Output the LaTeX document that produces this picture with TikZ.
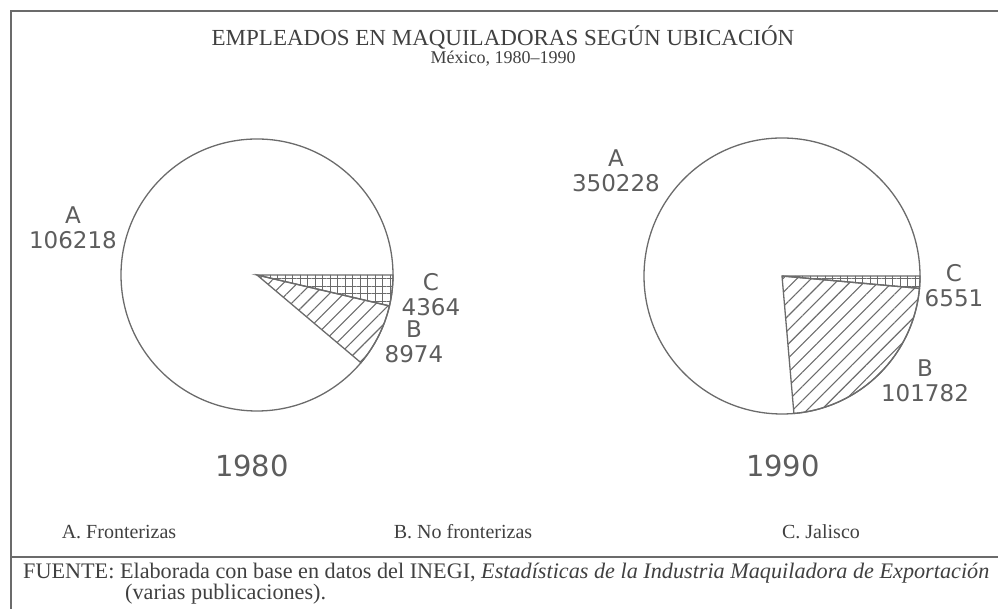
\documentclass[tikz,border=0pt]{standalone}
\usepackage{fontspec}
\setmainfont{Liberation Serif}
\newfontfamily\piefont{DejaVu Sans}
\usetikzlibrary{patterns.meta}
\definecolor{ink}{gray}{0.25}
\definecolor{rimgray}{gray}{0.42}
\tikzset{
  rim/.style={draw=rimgray, line width=1.3pt},
  hatchB/.style={pattern={Lines[angle=45,distance=10pt,line width=1.1pt]}, pattern color=rimgray},
  hatchC/.style={pattern={Hatch[angle=0,distance=7.5pt,line width=1pt]}, pattern color=rimgray},
  pielbl/.style={font=\piefont\fontsize{23}{25}\selectfont, text=ink!85, align=center, inner sep=0pt},
  yearlbl/.style={font=\piefont\fontsize{29}{31}\selectfont, text=ink!85, inner sep=0pt},
  serif/.style={font=\fontsize{20}{22}\selectfont, text=ink, inner sep=0pt},
}
\begin{document}
\begin{tikzpicture}[x=1pt,y=1pt]
\useasboundingbox (0,0) rectangle (998,609);
% frame
\draw[rim] (11,0) -- (11,598) -- (998,598);
\draw[rimgray, line width=1.8pt] (11,52) -- (998,52);
% title
\node[serif, font=\fontsize{23}{25}\selectfont] (title) at (503,571) {EMPLEADOS EN MAQUILADORAS SEGÚN UBICACIÓN};
\node[serif, font=\fontsize{18}{20}\selectfont] (subtitle) at (503,550) {México, 1980--1990};
% 1980
\pgfmathsetmacro\angCa{360/119.556*4.364}
\pgfmathsetmacro\angBa{360/119.556*(4.364+8.974)}
\coordinate (ca) at (257,334);
\draw[rim] (ca) circle[radius=136pt];
\draw[rim, hatchC] (ca) -- ++(0:136pt) arc[start angle=0, end angle=-\angCa, radius=136pt] -- cycle;
\draw[rim, hatchB] (ca) -- ++(-\angCa:136pt) arc[start angle=-\angCa, end angle=-\angBa, radius=136pt] -- cycle;
\node[pielbl] (a80) at (73,381.5) {A\\106218};
\node[pielbl] (c80) at (431,314.5) {C\\4364};
\node[pielbl] (b80) at (414,267.5) {B\\8974};
\node[yearlbl] (yr80) at (252,143) {1980};
% 1990
\pgfmathsetmacro\angCb{360/458.561*6.551}
\pgfmathsetmacro\angBb{360/458.561*(6.551+101.782)}
\coordinate (cb) at (782,333);
\draw[rim] (cb) circle[radius=138pt];
\draw[rim, hatchC] (cb) -- ++(0:138pt) arc[start angle=0, end angle=-\angCb, radius=138pt] -- cycle;
\draw[rim, hatchB] (cb) -- ++(-\angCb:138pt) arc[start angle=-\angCb, end angle=-\angBb, radius=138pt] -- cycle;
\node[pielbl] (a90) at (616,438.5) {A\\350228};
\node[pielbl] (c90) at (954,323) {C\\6551};
\node[pielbl] (b90) at (925,228.5) {B\\101782};
\node[yearlbl] (yr90) at (783,143) {1990};
% legend
\node[serif] (legA) at (119,77) {A. Fronterizas};
\node[serif] (legB) at (463,77) {B. No fronterizas};
\node[serif] (legC) at (821,77) {C. Jalisco};
% source
\node[serif, font=\fontsize{22.2}{24}\selectfont, anchor=west] (src) at (23,36) {FUENTE: Elaborada con base en datos del INEGI, \textit{Estadísticas de la Industria Maquiladora de Exportación}};
\node[serif, font=\fontsize{22.2}{24}\selectfont, anchor=west] (src2) at (125,15) {(varias publicaciones).};
\end{tikzpicture}
\end{document}
